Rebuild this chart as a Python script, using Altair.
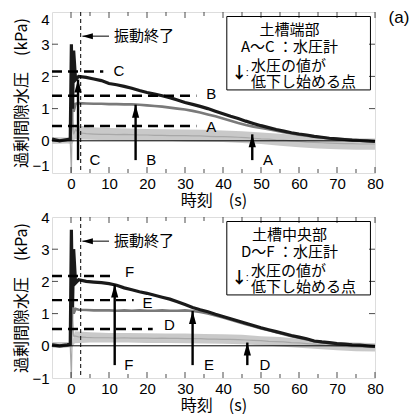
import altair as alt
import pandas as pd

# ---------------- data ----------------
t = [-5, -3, -1, -0.2, 0.1, 0.4, 0.7, 1.2, 2,
     4, 6, 8, 10, 12, 14, 16, 18, 20, 22, 24, 26, 28, 30, 32, 34, 36, 38, 40,
     42, 44, 46, 48, 50, 52, 54, 56, 58, 60, 62, 64, 66, 68, 70, 72, 74, 76, 78, 80]

# top panel (土槽端部)
top_C = [0.05, 0.0, 0.04, 0.05, 3.0, 1.0, 2.8, 1.9, 2.0,
         1.97, 1.92, 1.87, 1.78, 1.74, 1.69, 1.63, 1.56, 1.5, 1.45, 1.4, 1.34, 1.27, 1.19, 1.13, 1.07, 1.0, 0.92, 0.84,
         0.76, 0.69, 0.61, 0.54, 0.47, 0.41, 0.35, 0.3, 0.25, 0.21, 0.18, 0.14, 0.11, 0.08, 0.06, 0.04, 0.02, 0.01, 0.0, -0.02]
top_B = [0.02, 0.0, 0.02, 0.03, 0.4, 1.35, 0.9, 1.15, 1.17,
         1.16, 1.15, 1.15, 1.14, 1.14, 1.13, 1.13, 1.12, 1.1, 1.08, 1.06, 1.03, 1.0, 0.97, 0.93, 0.88, 0.82, 0.76, 0.69,
         0.62, 0.55, 0.49, 0.44, 0.4, 0.36, 0.31, 0.27, 0.23, 0.19, 0.16, 0.13, 0.1, 0.07, 0.05, 0.03, 0.01, 0.0, -0.01, -0.02]
top_A = [0.03, 0.0, 0.02, 0.0, -1.0, 1.3, 0.2, 0.35, 0.25,
         0.22, 0.21, 0.2, 0.2, 0.19, 0.2, 0.19, 0.18, 0.18, 0.17, 0.17, 0.16, 0.16, 0.16, 0.15, 0.15, 0.14, 0.13, 0.13,
         0.12, 0.11, 0.1, 0.08, 0.06, 0.05, 0.03, 0.02, 0.0, -0.02, -0.04, -0.05, -0.06, -0.07, -0.08, -0.09, -0.09, -0.1, -0.1, -0.1]

t_band = [-5, -1, 0.3, 1, 5, 10, 15, 20, 25, 30, 35, 40, 45, 50, 55, 60, 65, 70, 75, 80]
top_A_hi = [0.12, 0.1, 0.1, 0.5, 0.42, 0.4, 0.38, 0.37, 0.36, 0.35, 0.34, 0.32, 0.3, 0.26, 0.22, 0.17, 0.12, 0.1, 0.08, 0.07]
top_A_lo = [-0.1, -0.08, -0.1, 0.05, 0.03, 0.02, 0.01, 0.0, 0.0, -0.02, -0.03, -0.04, -0.07, -0.1, -0.15, -0.2, -0.24, -0.26, -0.28, -0.28]

# bottom panel (土槽中央部)
bot_F = [0.03, 0.0, 0.03, 0.05, 3.6, 1.2, 3.0, 1.95, 2.05,
         2.0, 1.98, 1.96, 1.93, 1.88, 1.8, 1.74, 1.68, 1.63, 1.57, 1.51, 1.45, 1.37, 1.28, 1.19, 1.12, 1.06, 0.98, 0.91,
         0.84, 0.77, 0.7, 0.63, 0.56, 0.5, 0.44, 0.38, 0.32, 0.27, 0.22, 0.15, 0.12, 0.1, 0.07, 0.05, 0.03, 0.02, 0.0, -0.02]
bot_E = [0.0, -0.02, 0.0, 0.02, 0.6, 1.3, 1.0, 1.15, 1.12,
         1.11, 1.1, 1.1, 1.1, 1.09, 1.1, 1.09, 1.1, 1.09, 1.09, 1.1, 1.09, 1.09, 1.1, 1.08, 1.05, 1.0, 0.94, 0.88,
         0.81, 0.74, 0.67, 0.61, 0.54, 0.48, 0.42, 0.36, 0.3, 0.25, 0.2, 0.14, 0.11, 0.08, 0.05, 0.03, 0.01, 0.0, -0.01, -0.03]
bot_D = [0.05, 0.03, 0.04, 0.02, -1.0, 1.0, 0.3, 0.3, 0.28,
         0.26, 0.25, 0.25, 0.25, 0.24, 0.25, 0.24, 0.24, 0.24, 0.23, 0.24, 0.23, 0.23, 0.22, 0.22, 0.22, 0.21, 0.21, 0.2,
         0.2, 0.19, 0.18, 0.17, 0.16, 0.14, 0.13, 0.12, 0.1, 0.09, 0.07, 0.05, 0.03, 0.01, -0.01, -0.03, -0.04, -0.05, -0.05, -0.06]
bot_D_hi = [0.12, 0.12, 0.1, 0.45, 0.42, 0.4, 0.4, 0.39, 0.38, 0.38, 0.37, 0.36, 0.34, 0.3, 0.27, 0.22, 0.17, 0.12, 0.1, 0.08]
bot_D_lo = [-0.05, -0.05, -0.05, 0.08, 0.1, 0.1, 0.1, 0.09, 0.09, 0.08, 0.07, 0.06, 0.05, 0.02, -0.02, -0.06, -0.1, -0.14, -0.17, -0.18]

# dashed reference levels
top_lvl_name = ["C", "B", "A"]
top_lvl_y = [2.15, 1.40, 0.46]
top_lvl_end = [8.5, 33, 33]
top_lvl_lx = [11.2, 35.6, 35.6]
top_lvl_ly = [2.17, 1.44, 0.42]
bot_lvl_name = ["F", "E", "D"]
bot_lvl_y = [2.17, 1.42, 0.52]
bot_lvl_end = [11.5, 16.5, 21.5]
bot_lvl_lx = [14.2, 18.8, 24.5]
bot_lvl_ly = [2.3, 1.33, 0.64]

# arrows: points where the pressure begins to drop
top_arr_name = ["C", "B", "A"]
top_arr_x = [1.85, 17.0, 47.7]
top_arr_tip = [1.9, 1.12, 0.2]
top_arr_lx = [4.9, 19.8, 50.5]
bot_arr_name = ["F", "E", "D"]
bot_arr_x = [11.5, 32.0, 46.4]
bot_arr_tip = [1.9, 1.08, 0.1]
bot_arr_lx = [14.0, 35.0, 49.6]
arr_base = -0.6

x_major = [0, 10, 20, 30, 40, 50, 60, 70, 80]
x_minor = [5, 15, 25, 35, 45, 55, 65, 75]
y_major = [-1, 0, 1, 2, 3, 4]

W, H = 323, 161
JP = "Noto Sans CJK JP"
LAT = "Liberation Sans"


def panel(series_c, series_b, series_a, band_hi, band_lo,
          lvl_name, lvl_y, lvl_end, lvl_lx, lvl_ly,
          arr_name, arr_x, arr_tip, arr_lx,
          box_title, box_sub, tag, yflush):
    xs = alt.Scale(domain=[-5, 80], nice=False, zero=False)
    ys = alt.Scale(domain=[-1, 4], nice=False, zero=False)
    xax = alt.Axis(values=x_major, ticks=False, domain=False, grid=False,
                   labelFont=LAT, labelFontSize=15, labelColor="black", labelOverlap=False,
                   labelPadding=3, labelFlush=False,
                   title="時刻　(s)", titleFont=JP, titleColor="black",
                   titleFontSize=16, titleFontWeight="normal", titlePadding=1)
    yax = alt.Axis(values=y_major, ticks=False, domain=False, grid=False,
                   labelFont=LAT, labelFontSize=15, labelColor="black", labelOverlap=False,
                   labelPadding=3, labelFlush=yflush,
                   title="過剰間隙水圧　(kPa)", titleFont=JP, titleColor="black",
                   titleFontSize=16, titleFontWeight="normal", titlePadding=2)
    X = lambda f: alt.X(f, scale=xs, axis=xax)
    Y = lambda f: alt.Y(f, scale=ys, axis=yax)

    df = pd.DataFrame({"t": t, "c": series_c, "b": series_b, "a": series_a})
    dband = pd.DataFrame({"t": t_band, "hi": band_hi, "lo": band_lo})

    band = alt.Chart(dband).mark_area(color="#c6c6c6", opacity=0.95).encode(
        x=X("t:Q"), y=Y("lo:Q"), y2="hi:Q")
    aline = alt.Chart(df).mark_line(color="#a8a8a8", strokeWidth=1.2).encode(x=X("t:Q"), y=Y("a:Q"))
    bline = alt.Chart(df).mark_line(color="#7a7a7a", strokeWidth=2.6).encode(x=X("t:Q"), y=Y("b:Q"))
    cline = alt.Chart(df).mark_line(color="#1a1a1a", strokeWidth=3.2).encode(x=X("t:Q"), y=Y("c:Q"))

    zero = alt.Chart(pd.DataFrame({"y": [0]})).mark_rule(color="black", strokeWidth=1).encode(y=Y("y:Q"))
    vend = alt.Chart(pd.DataFrame({"x": [2.55]})).mark_rule(
        color="black", strokeWidth=1, strokeDash=[4, 3]).encode(x=X("x:Q"))

    dl = pd.DataFrame({"n": lvl_name, "y": lvl_y, "x0": [-5] * 3, "x1": lvl_end,
                       "lx": lvl_lx, "ly": lvl_ly})
    lvl = alt.Chart(dl).mark_rule(color="black", strokeWidth=2.4, strokeDash=[10, 6]).encode(
        x=X("x0:Q"), x2="x1:Q", y=Y("y:Q"))
    lvl_t = alt.Chart(dl).mark_text(font=LAT, fontSize=15, align="left", baseline="middle").encode(
        x=X("lx:Q"), y=Y("ly:Q"), text="n:N")

    da = pd.DataFrame({"n": arr_name, "x": arr_x, "tip": arr_tip,
                       "base": [arr_base] * 3, "lx": arr_lx})
    shaft = alt.Chart(da).mark_rule(color="black", strokeWidth=2.4).encode(
        x=X("x:Q"), y=Y("base:Q"), y2="tip:Q")
    head = alt.Chart(da).mark_point(shape="M -1 3.6 L 0 0 L 1 3.6 Z", filled=True, opacity=1,
                                    color="black", size=52).encode(x=X("x:Q"), y=Y("tip:Q"))
    arr_t = alt.Chart(da).mark_text(font=LAT, fontSize=15, align="left", baseline="middle").encode(
        x=X("lx:Q"), y=Y("base:Q"), text="n:N")

    # 振動終了 pointer
    dv = pd.DataFrame({"x0": [3.0], "x1": [10.0], "y": [3.25], "tx": [11.3], "s": ["振動終了"]})
    vptr = alt.Chart(dv).mark_rule(color="black", strokeWidth=1).encode(
        x=X("x0:Q"), x2="x1:Q", y=Y("y:Q"))
    vhead = alt.Chart(dv).mark_point(shape="M 0 0 L 3.5 -1 L 3.5 1 Z", filled=True, opacity=1,
                                     color="black", size=36).encode(x=X("x0:Q"), y=Y("y:Q"))
    vtxt = alt.Chart(dv).mark_text(font=JP, fontSize=15, align="left", baseline="middle").encode(
        x=X("tx:Q"), y=Y("y:Q"), text="s:N")

    # legend box
    dbox = pd.DataFrame({"x0": [41.0], "x1": [78.8], "y0": [1.58], "y1": [3.86]})
    box = alt.Chart(dbox).mark_rect(fill="white", stroke="black", strokeWidth=1).encode(
        x=X("x0:Q"), x2="x1:Q", y=Y("y0:Q"), y2="y1:Q")
    dtxt = pd.DataFrame({
        "s": [box_title, box_sub, "水圧の値が", "低下し始める点", "↓", ":"],
        "x": [57.5, 57.5, 47.4, 47.4, 44.3, 46.4],
        "y": [3.45, 2.9, 2.33, 1.83, 2.12, 2.12],
    })
    txt_c = alt.Chart(dtxt.iloc[:2]).mark_text(font=JP, fontSize=15, align="center", baseline="middle").encode(
        x=X("x:Q"), y=Y("y:Q"), text="s:N")
    txt_l = alt.Chart(dtxt.iloc[2:4]).mark_text(font=JP, fontSize=15, align="left", baseline="middle").encode(
        x=X("x:Q"), y=Y("y:Q"), text="s:N")
    txt_a = alt.Chart(dtxt.iloc[4:5]).mark_text(font=JP, fontSize=16, align="center", baseline="middle",
                                                 fontWeight="bold", color="black").encode(
        x=X("x:Q"), y=Y("y:Q"), text="s:N")
    txt_k = alt.Chart(dtxt.iloc[5:]).mark_text(font=LAT, fontSize=11, align="center", baseline="middle",
                                                color="black").encode(
        x=X("x:Q"), y=Y("y:Q"), text="s:N")

    # inward ticks
    dxm = pd.DataFrame({"x": x_major})
    dxn = pd.DataFrame({"x": x_minor})
    dym = pd.DataFrame({"y": y_major[1:-1]})
    tk = []
    for yv in [H - 3, 3]:
        tk.append(alt.Chart(dxm).mark_tick(color="black", size=6, thickness=1).encode(
            x=X("x:Q"), y=alt.value(yv)))
    for yv in [H - 2, 2]:
        tk.append(alt.Chart(dxn).mark_tick(color="black", size=4, thickness=1).encode(
            x=X("x:Q"), y=alt.value(yv)))
    for xv in [3, W - 3]:
        tk.append(alt.Chart(dym).mark_tick(color="black", size=6, thickness=1).encode(
            y=Y("y:Q"), x=alt.value(xv)))

    layers = [band, aline, bline, cline, zero, vend, lvl, lvl_t, shaft, head, arr_t,
              vptr, vhead, vtxt, box, txt_c, txt_l, txt_a, txt_k] + tk
    if tag:
        dtag = pd.DataFrame({"x": [86.3], "y": [3.82], "s": [tag]})
        layers.append(alt.Chart(dtag).mark_text(font=LAT, fontSize=17, align="center",
                                                baseline="middle").encode(
            x=X("x:Q"), y=Y("y:Q"), text="s:N"))
    return alt.layer(*layers).properties(width=W, height=H)


top = panel(top_C, top_B, top_A, top_A_hi, top_A_lo,
            top_lvl_name, top_lvl_y, top_lvl_end, top_lvl_lx, top_lvl_ly,
            top_arr_name, top_arr_x, top_arr_tip, top_arr_lx,
            "土槽端部", "A〜C ：水圧計", "(a)", 1)
bot = panel(bot_F, bot_E, bot_D, bot_D_hi, bot_D_lo,
            bot_lvl_name, bot_lvl_y, bot_lvl_end, bot_lvl_lx, bot_lvl_ly,
            bot_arr_name, bot_arr_x, bot_arr_tip, bot_arr_lx,
            "土槽中央部", "D〜F ：水圧計", "", False)

chart = alt.vconcat(top, bot, spacing=0).properties(
    padding={"left": 5, "top": 0, "right": 0, "bottom": 0}
).configure_view(stroke="black", strokeWidth=1).configure(background="white")

chart.save("out.html", embed_options={"renderer": "svg", "actions": False})
